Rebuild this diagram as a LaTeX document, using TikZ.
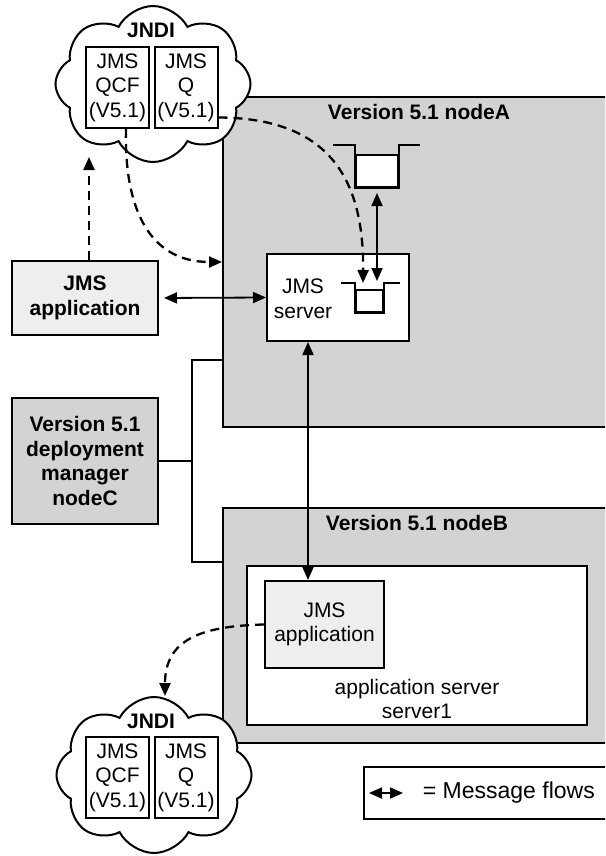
\documentclass[tikz,border=0pt]{standalone}
\usepackage{fontspec}
\setmainfont{Liberation Sans}
\usetikzlibrary{arrows.meta, positioning, shapes.symbols, calc}
\definecolor{nodegray}{RGB}{210,211,213}
\definecolor{appgray}{RGB}{238,238,238}

\begin{document}
\begin{tikzpicture}[x=1pt, y=-1pt, line width=1.8pt,
  every node/.style={font=\fontsize{21}{24.5}\selectfont, inner sep=0pt},
  bold/.style={font=\fontsize{21}{24.5}\selectfont\bfseries},
  box/.style={draw, rectangle, align=center, line width=2pt},
  jndibox/.style={box, minimum width=63pt, minimum height=81pt},
  jndicloud/.style={draw, cloud, cloud puffs=8, cloud puff arc=125, cloud ignores aspect, minimum width=195pt, minimum height=156pt, fill=white, line width=2pt},
  flow/.style={{Triangle[length=13pt,width=11pt]}-{Triangle[length=13pt,width=11pt]}},
  lookup/.style={dash pattern=on 9pt off 6pt, line width=2.3pt, -{Triangle[length=13pt,width=11pt]}}]
\useasboundingbox (0,0) rectangle (605,856);
\clip (0,0) rectangle (605,856);

% Version 5.1 nodeA
\node[box, fill=nodegray, minimum width=392pt, minimum height=330pt] (nodeA) at (419,262) {};
\node[bold] (nodeAlabel) at (419,112) {Version 5.1 nodeA};
\node[box, fill=white, minimum width=42pt, minimum height=32pt] (topq) at (377,171) {};
\draw ($(topq.north west)+(-22,-9)$) -- ($(topq.north west)+(0,-9)$) -- (topq.south west) -- (topq.south east) -- ($(topq.north east)+(0,-9)$) -- ($(topq.north east)+(21,-9)$);
\node[box, fill=white, minimum width=142pt, minimum height=87pt] (jmsserver) at (338,297.5) {};
\node[align=center] (serverlabel) at (303,299) {JMS\\server};
\node[box, fill=white, minimum width=27pt, minimum height=22pt] (srvq) at (369.5,301) {};
\draw ($(srvq.north west)+(-14,-6)$) -- ($(srvq.north west)+(0,-6)$) -- (srvq.south west) -- (srvq.south east) -- ($(srvq.north east)+(0,-6)$) -- ($(srvq.north east)+(16,-6)$);

% Version 5.1 nodeB
\node[box, fill=nodegray, minimum width=392pt, minimum height=235pt] (nodeB) at (419,625.5) {};
\node[bold] (nodeBlabel) at (417,523) {Version 5.1 nodeB};
\node[box, fill=white, minimum width=340pt, minimum height=159pt] (appserver) at (417,645.5) {};
\node[align=center] (appserverlabel) at (417,699) {application server\\server1};
\node[box, fill=appgray, minimum width=119pt, minimum height=87pt] (jmsapp2) at (324.5,624.5) {JMS\\application};

% left column
\node[box, bold, fill=appgray, minimum width=146pt, minimum height=74pt] (jmsapp1) at (85,298) {JMS\\application};
\node[box, bold, fill=nodegray, minimum width=146pt, minimum height=126pt] (dmgr) at (85,461) {Version 5.1\\deployment\\manager\\nodeC};

% JNDI clouds
\node[jndicloud] (jndiA) at (153,84) {};
\node[bold] (jndiAlabel) at (151,30) {JNDI};
\node[jndibox] (qcfA) at (117.5,87.5) {JMS\\QCF\\(V5.1)};
\node[jndibox] (qA) at (186,87.5) {JMS\\Q\\(V5.1)};

\node[jndicloud] (jndiB) at (154,775) {};
\node[bold] (jndiBlabel) at (151,721.5) {JNDI};
\node[jndibox] (qcfB) at (117.5,777.5) {JMS\\QCF\\(V5.1)};
\node[jndibox] (qB) at (186,777.5) {JMS\\Q\\(V5.1)};

% deployment manager links
\coordinate (bus) at (192,461);
\coordinate (busA) at (192,360);
\coordinate (busB) at (192,562);
\draw (dmgr.east) -- (bus);
\draw (nodeA.west |- busA) -- (busA) -- (busB) -- (nodeB.west |- busB);

% lookups
\coordinate (jndiAin) at (89,157);
\coordinate (jndiBin) at (165,696);
\draw[lookup] ([yshift=-30pt]qA.east) .. controls (330,118) and (364,180) .. ($(srvq.north west)+(8,-6)$);
\draw[lookup] ([xshift=8.5pt]qcfA.south) .. controls (124,210) and (150,262) .. (nodeA.west);
\draw[lookup] (jmsapp1.north -| jndiAin) -- (jndiAin);
\draw[lookup] (jmsapp2.west) .. controls (200,626) and (165,640) .. (jndiBin);

% message flows
\coordinate (flowx) at (308,0);
\draw[flow, shorten <=5pt] (jmsapp1.east) -- (jmsserver.west);
\draw[flow, shorten <=5pt, shorten >=2pt] (topq.south) -- ($(srvq.north -| topq.south)+(0,-6)$);
\draw[flow] (jmsserver.south -| flowx) -- (jmsapp2.north -| flowx);

% legend
\node[box, minimum width=247pt, minimum height=52pt, anchor=west] (legend) at (363,793) {};
\node[font=\fontsize{23}{27}\selectfont, anchor=west] (legendtext) at (422,793) {= Message flows};
\draw[flow] ([xshift=6pt]legend.west) -- ([xshift=40pt]legend.west);
\end{tikzpicture}
\end{document}
